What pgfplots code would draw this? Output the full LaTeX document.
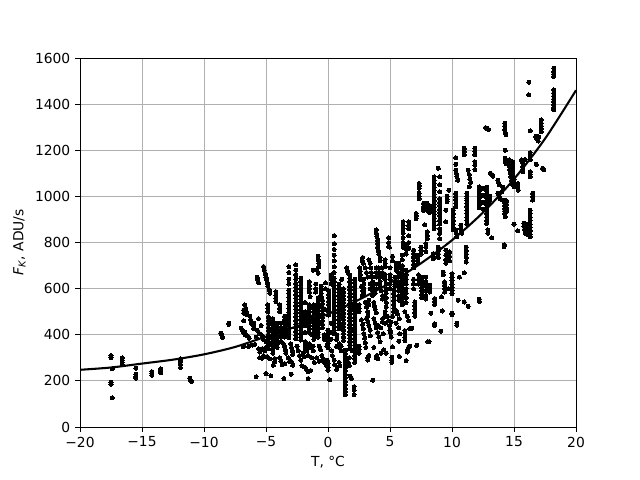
\documentclass[border=0pt]{standalone}
\usepackage{pgfplots}
\pgfplotsset{compat=1.18}
\usepackage{fontspec}
\setmainfont{DejaVu Sans}
\begin{document}
\begin{tikzpicture}[x=1in,y=1in]
\path[use as bounding box] (0,0) rectangle (6.4,4.8);
\begin{axis}[
  at={(0.8in,0.53in)},anchor=south west,
  scale only axis,width=4.96in,height=3.69in,
  xmin=-20,xmax=20,ymin=0,ymax=1600,
  xtick={-20,-15,-10,-5,0,5,10,15,20},
  xticklabels={−20,−15,−10,−5,0,5,10,15,20},
  ytick={0,200,400,600,800,1000,1200,1400,1600},
  yticklabel style={/pgf/number format/assume math mode=true,/pgf/number format/1000 sep={}},
  tick style={black,line width=0.6pt},
  tick align=outside,tick pos=left,
  major tick length=3.5pt,
  axis line style={line width=0.6pt},
  grid=major,grid style={color=black!31,line width=0.6pt},
  tick label style={font=\fontsize{10}{12}\selectfont},
  label style={font=\fontsize{10}{12}\selectfont},
  xlabel={T, °C},
  ylabel={\textit{F}\textsubscript{\textit{K}}, ADU/s},
  xlabel style={yshift=0pt},
  clip=true,
]
\addplot[only marks,mark=*,mark size=1.45pt,black,mark options={line width=0pt}] coordinates {
(-17.5,310)(-17.5,300)(-17.4,252)(-17.5,195)(-17.5,185)(-17.4,127)
(-16.6,300)(-16.6,290)(-16.6,280)(-16.6,270)(-15.5,255)(-15.5,228)(-15.5,218)(-15.5,212)
(-14.2,240)(-14.2,232)(-14.2,224)(-13.5,252)(-13.5,244)(-13.5,236)
(-11.9,295)(-11.9,285)(-11.9,272)(-11.9,258)(-11.15,212)(-11.1,205)(-11.0,197)
(-8.65,407)(-8.55,398)(-8.5,388)(-8,450)(-8,445)
(-6.8,507)(-6.8,494)(-6.8,460)(-6.9,420)(-6.7,412)(-6.8,350)
(-6.7,529)(-6.65,515)(-6.6,500)(-6.55,486)(-6.3,480)(-6.25,465)(-6.2,450)(-6,450)(-6,438)(-6,428)
(-7,428)(-6.9,420)(-6.8,410)(-6.7,400)(-6.5,395)(-6.35,385)(-6.85,348)(-6.4,350)(-6.1,355)(-5.9,358)
(-5.7,650)(-5.65,638)(-5.6,625)(-5.8,218)(-5,232)(-4.6,222)(-3.55,210)(-2.96,229)(-1.6,210)
(-5.2,696)(-5.15,680)(-5.05,665)(-5,650)(-4.95,640)(-4.9,625)(-4.85,610)(-4.75,595)(-4.7,580)(-4.2,587)(-4.2,572)(-4.2,558)(-4.2,543)
(-4.85,529)(-4.85,515)(-4.85,500)
(-5.6,340)(-5.5,325)(-5.3,340)(-5.5,300)(-5.3,298)(-5.6,470)(-5.4,440)(-5.3,395)(-5.2,380)(-5,370)
(-4.8,478)(-4.8,462)(-4.8,448)(-4.8,432)(-4.8,418)(-4.8,402)(-4.8,388)(-4.8,372)(-4.8,358)(-4.8,340)
(-4.45,470)(-4.45,455)(-4.45,440)(-4.45,425)(-4.45,410)(-4.45,395)(-4.45,380)(-4.45,365)(-4.45,350)(-4.45,335)(-4.45,320)
(-4.1,450)(-4.1,435)(-4.1,420)(-4.1,405)(-4.1,390)(-4.1,375)(-4.1,360)(-4.1,345)(-3.9,530)(-3.9,515)(-3.9,500)
(-4.3,297)(-4.3,283)(-4.4,268)(-3.5,275)(-2.95,283)(-2.85,268)
(-3.6,362)(-3.5,348)(-3.45,335)(-3.4,320)(-3,360)(-2.95,345)(-2.9,330)(-2.85,315)
(-3.5,480)(-3.5,465)(-3.5,450)(-3.5,435)(-3.5,420)(-3.5,405)(-3.5,390)
(-3.15,695)(-3.15,670)(-3.15,640)(-3.15,620)(-3.15,594)(-3.15,578)(-3.15,562)(-3.15,546)(-3.15,530)(-3.15,514)(-3.15,498)(-3.15,482)(-3.15,466)(-3.15,450)(-3.15,434)(-3.15,418)(-3.15,402)(-3.15,386)
(-2.6,703)(-2.6,680)(-2.6,660)(-2.6,640)(-2.6,622)(-2.6,606)(-2.6,590)(-2.6,574)(-2.6,558)(-2.6,542)(-2.6,526)(-2.6,510)(-2.6,494)(-2.6,478)(-2.6,462)(-2.6,446)(-2.6,430)(-2.6,414)(-2.6,398)(-2.6,382)
(-2.2,645)(-2.2,630)(-2.2,615)(-2.2,600)(-2.2,585)(-2.2,570)(-2.2,555)(-2.2,540)(-2.2,525)(-2.2,510)(-2.2,495)(-2.2,480)(-2.2,465)(-2.2,450)(-2.2,435)(-2.2,420)(-2.2,405)(-2.2,390)(-2.2,377)
(-1.85,500)(-1.85,485)(-1.85,470)(-1.85,455)(-1.85,440)(-1.85,370)(-1.85,355)(-1.85,340)(-1.9,260)(-1.75,250)(-1.6,240)(-2.1,265)(-1.4,245)
(-1.5,630)(-1.5,615)(-1.5,600)(-1.5,585)(-1.45,565)(-1.5,530)(-1.5,515)(-1.5,500)(-1.5,485)(-1.5,470)(-1.5,455)(-1.5,440)(-1.5,425)(-1.5,410)(-1.5,360)(-1.5,345)(-1.2,350)(-1.2,330)
(-1.2,680)(-1.15,530)(-1.15,515)(-1.15,500)(-1.15,485)(-1.15,470)(-1.15,455)(-1.15,440)(-1.15,425)(-1.15,410)(-1.15,395)(-1.15,380)
(-0.8,740)(-0.8,725)(-0.75,710)(-0.75,695)(-0.9,680)(-0.8,667)(-0.8,560)(-0.8,545)(-0.8,530)(-0.8,515)(-0.8,500)(-0.8,485)(-0.8,470)(-0.8,455)(-0.8,440)(-0.8,425)(-0.8,410)(-0.8,390)(-0.7,350)(-0.6,335)
(-0.55,610)(-0.55,595)(-0.55,580)(-0.55,565)(-0.45,550)(-0.45,535)(-0.45,520)(-0.45,505)(-0.45,490)(-0.45,475)(-0.45,460)(-0.45,445)(-0.45,430)(-0.5,310)(-0.4,295)(-0.3,280)(-0.15,270)
(-0.05,290)(0,275)(0,260)(0,246)(0.13,205)(0,345)(0,360)(0,375)(0,390)(0,405)(0,420)(0.05,590)(0.05,575)(0.05,560)(0.05,545)(0.05,530)(0.05,515)(0.05,500)(0.05,485)
(0.5,830)(0.5,795)(0.5,770)(0.5,745)(0.5,720)(0.5,695)(0.5,670)(0.5,645)(0.5,630)(0.5,615)(0.5,600)(0.5,585)(0.5,570)(0.5,555)(0.5,540)(0.5,525)(0.5,510)(0.5,495)(0.5,480)(0.5,465)(0.5,450)(0.5,435)(0.5,420)(0.5,405)
(0.9,620)(0.9,605)(0.9,590)(0.9,575)(0.9,560)(0.9,545)(0.9,530)(0.9,515)(0.9,500)(0.9,485)(0.9,470)(0.9,455)(0.9,440)(0.9,425)(0.9,360)(0.9,345)(0.9,280)(0.95,265)
(1.25,600)(1.25,585)(1.25,570)(1.25,555)(1.25,540)(1.25,525)(1.25,510)(1.25,495)(1.25,480)(1.25,465)(1.25,450)(1.25,435)(1.25,420)(1.25,405)(1.25,390)(1.25,375)
(1.5,690)(1.55,680)(1.6,670)(1.4,333)(1.4,318)(1.4,303)(1.4,288)(1.4,273)(1.4,258)(1.4,243)(1.4,228)(1.4,213)(1.4,198)(1.4,183)(1.4,168)(1.4,153)(1.4,140)(1.7,300)(1.65,280)(1.7,265)(1.8,220)(1.9,210)
(1.75,660)(1.75,645)(1.75,630)(1.75,610)(1.75,595)(1.75,580)(1.75,565)(1.75,550)(1.75,535)(1.75,520)(1.75,505)(1.75,490)(1.75,475)(1.75,460)(1.75,445)(1.75,430)(1.75,415)(1.75,400)(1.75,385)(1.75,370)(1.75,355)(1.75,340)
(2.1,175)(2.1,160)(2.1,140)(2.15,640)(2.15,625)(2.15,610)(2.15,595)(2.15,580)(2.15,565)(2.15,550)(2.15,535)(2.15,520)(2.15,505)(2.15,490)(2.15,475)(2.15,460)(2.15,445)(2.15,430)(2.15,415)(2.15,400)(2.15,385)(2.15,370)(2.15,355)(2.15,340)(2.15,325)(2.15,310)(2.15,295)(2.15,280)
(2.5,530)(2.5,515)(2.5,500)(2.5,350)(2.5,335)(2.5,320)
(-1.85,540)(-1.85,410)(-1.3,400)(-1.3,470)(-1.3,520)(-0.3,400)(-0.3,380)(-0.3,510)(0.25,450)(0.25,410)(0.25,380)(0.7,400)(0.7,380)(0.7,350)(1.1,640)(1.05,350)(1.05,330)(1.95,330)(1.95,520)(1.95,420)
(-5.7,420)(-5.5,405)(-5.8,390)(-5.2,310)(-5.1,330)(-5,345)(-4.9,305)(-4.7,295)(-3.9,300)(-3.8,285)(-3.7,270)(-3.2,300)(-3.1,285)(-2.5,350)(-2.4,330)(-2.3,310)(-2.2,290)(-2,320)(-1.9,305)(-1.7,330)(-1.6,310)(-1.3,300)(-1.1,280)(-0.9,300)(-0.7,285)
(-3.8,450)(-3.8,430)(-3.8,410)(-3.8,390)(-3.8,370)(-1,620)(-1,600)(-1,585)(-0.2,625)(-0.2,600)(0.25,640)(0.25,660)(0.25,620)(-0.1,350)(0.3,330)(0.35,310)(0.5,290)(0.55,270)(0.7,250)
(2.6,660)(2.6,640)(2.7,610)(2.8,590)(2.75,570)(2.7,465)(2.8,445)(2.85,425)(2.9,405)(2.95,385)(3,365)(3.05,345)(3.2,500)(3.2,480)(3.4,620)(3.4,600)(3.3,550)(3.3,530)(3.9,690)(3.9,670)(3.9,650)(3.9,620)(3.9,600)(3.8,580)
(3.7,470)(3.8,450)(3.9,430)(4,410)(4.1,390)(4.2,370)(4.05,440)(4.25,430)(4.45,405)(4.6,500)(4.6,480)(4.6,450)(4.8,480)(4.9,460)(4.95,440)(5,420)(5.05,410)(5.5,505)(5.6,490)(5.75,470)(5.5,450)(5.7,430)(6.2,500)(6.4,480)(6.5,460)
(2.55,690)(2.6,675)(3,690)(3.1,670)(3.2,650)(4.35,690)(4.4,670)(4.4,650)(4.95,780)(5.2,740)(5.2,720)(5.4,650)(5.4,630)(5.4,610)
(2.8,735)(2.75,720)(2.85,710)(2.9,640)(2.9,620)(2.9,600)(2.9,580)(3,540)(3.1,520)(3.1,470)(3.2,455)(3.3,440)(3.4,420)(3.4,395)(3.3,310)(3.2,300)(3.2,290)(3.6,203)(3.7,345)(3.95,310)(3.9,300)(4,295)(4.3,320)(4.5,335)(4.7,320)
(3.3,725)(3.4,710)(3.45,690)(3.5,670)(3.55,650)(3.6,630)(3.6,610)(3.6,590)(3.6,570)(3.7,540)(3.75,525)(3.8,510)(3.9,495)
(3.9,855)(3.9,840)(3.95,825)(4,810)(4,795)(4,780)(4.05,765)(4.1,750)(4.2,735)(4.2,722)(4.1,690)(4.1,670)(4.1,650)(4.2,630)(4.2,610)(4.3,590)(4.4,570)(4.4,555)(4.4,470)(4.4,455)
(4.6,725)(4.6,710)(4.6,695)(4.6,660)(4.6,640)(4.7,620)(4.7,600)(4.7,580)(4.7,560)(4.7,540)(4.7,520)
(4.9,820)(4.9,800)(4.9,783)(5,690)(5,660)(5,640)(5,620)(5,600)(5.5,710)(5.5,695)(5.5,680)
(5.3,593)(5.3,578)(5.3,563)(5.3,548)(5.3,530)(5.3,515)(5.3,500)(5.2,480)
(5.7,710)(5.7,690)(5.7,670)(5.7,650)(5.7,630)(5.7,610)(5.7,590)(5.7,570)(5.7,550)
(6,745)(6,725)(6,700)(6,680)(6,665)(6,650)(6,635)(6,620)(6,605)(6,590)(6,575)(6,560)(6,545)(6,530)(6.05,890)(6.05,875)(6.05,860)(6.05,840)(6.05,820)(6.05,800)(6.05,780)
(6.3,790)(6.3,770)(6.3,750)(6.3,680)(6.3,660)(6.3,640)(6.3,620)(6.3,600)(6.3,580)(6.3,560)(6.3,540)(6.5,890)(6.5,875)(6.5,860)(6.5,830)(6.5,800)(6.5,775)
(6.9,767)(6.9,752)(6.9,737)(6.9,722)(6.9,705)(6.9,690)(6.9,640)(6.9,620)(6.9,600)(7,542)(7,525)(7,510)(7,495)(7,480)
(7.1,926)(7.1,915)(7.1,904)(7.25,745)(7.25,730)(7.25,710)(7.3,660)(7.3,640)(7.3,620)(7.35,1056)(7.35,1045)(7.35,1035)(7.35,1013)(7.35,1000)(7.35,990)
(7.5,780)(7.5,765)(7.5,750)(7.55,650)(7.55,635)(7.55,620)(7.55,605)(7.55,590)(7.55,575)(7.55,560)(7.7,970)(7.7,955)(7.7,940)(7.8,876)
(7.9,795)(7.9,780)(7.9,760)(7.9,650)(7.9,630)(7.9,610)(7.9,590)(7.9,570)(7.9,555)(8,970)(8,955)(8,940)(8,846)(8,830)(8,817)
(8.2,615)(8.2,600)(8.2,585)(8.3,494)(8.2,960)(8.2,945)(8.2,930)(8.5,752)(8.5,740)(8.5,730)
(8.55,1085)(8.55,1070)(8.55,1055)(8.55,1040)(8.55,1025)(8.55,1010)(8.55,995)(8.55,980)(8.55,965)(8.55,950)(8.55,935)(8.55,920)(8.55,905)(8.55,890)(8.55,875)(8.55,860)
(8.6,557)(8.6,545)(8.6,532)(8.6,448)(8.6,440)(8.9,1122)(8.9,780)(8.9,765)(8.9,750)(8.9,735)
(9,1085)(9,1050)(9,1020)(9,990)(9,975)(9,960)(9,945)(9,930)(9,915)(9,897)(9,880)(9,860)(9,840)(9,817)(9.1,416)
(9.15,564)(9.2,503)(9.3,672)(9.3,660)(9.4,629)(9.4,615)(9.4,600)(9.4,585)(9.5,940)(9.5,890)(9.5,767)(9.5,745)(9.5,725)(9.5,710)
(9.6,1000)(9.6,988)(9.6,977)(9.7,600)(9.75,1027)(9.8,760)(9.8,740)(9.8,720)
(10,665)(10,650)(10,635)(10,620)(10,605)(10,590)(10,578)(10,494)(10,486)(10.1,940)(10.1,925)(10.1,910)(10.1,895)(10.1,880)(10.1,865)(10.1,855)(10.3,1168)(10.3,1139)
(10.3,1114)(10.35,1100)(10.4,1085)(10.45,1070)(10.3,1013)(10.3,1000)(10.3,985)(10.3,970)(10.3,955)(10.3,855)(10.35,840)(10.4,825)(10.4,442)(10.4,450)(10.5,550)(10.6,650)
(10.7,875)(10.7,860)(10.75,845)(10.8,840)(11,1208)(11,1195)(11,1180)(11,668)(11,542)
(11.15,780)(11.15,765)(11.15,750)(11.15,735)(11.15,715)(11.2,1013)(11.2,1000)(11.2,990)(11.2,984)(11.2,970)(11.2,955)(11.2,940)(11.2,925)(11.2,910)(11.2,895)(11.2,880)(11.3,523)
(11.3,1114)(11.4,1095)(11.45,1075)(11.5,1060)(11.4,1042)(11.85,1208)(11.85,1195)(11.85,1180)(11.85,1150)(11.85,1135)(11.85,1115)(12.2,554)(12.2,545)
(12.2,1042)(12.2,1025)(12.2,1010)(12.2,995)(12.2,980)(12.2,965)(12.2,950)(12.5,1035)(12.5,1005)(12.5,975)(12.5,945)
(12.8,1040)(12.8,1025)(12.8,1010)(12.8,995)(12.8,980)(12.8,965)(12.8,950)(12.8,940)(12.8,925)(12.8,910)(12.8,895)(12.8,883)(12.8,1295)(12.7,1298)(12.95,1290)(12.9,855)(12.9,840)(13.2,820)
(13.1,1100)(13.2,1095)(13.3,1088)(13.05,1000)(13.05,985)(13,970)(13.7,1070)(13.75,1060)(13.8,1050)(13.7,1013)(13.8,1000)(13.9,990)(14,985)(14,1020)(14.1,1040)
(14.25,1317)(14.25,1305)(14.25,1290)(14.3,1275)(14.35,1267)(14.3,1200)(14.3,1165)(14.3,1155)(14.35,1143)
(14.25,984)(14.25,972)(14.25,960)(14.25,948)(14.25,936)(14.25,924)(14.4,980)(14.4,965)(14.4,950)(14.4,935)(14.3,912)(14.2,790)(14.2,782)
(14.6,1158)(14.6,1145)(14.6,1130)(14.65,1115)(14.7,1100)(14.75,1085)(14.8,1070)(14.8,1056)(14.9,1150)(14.9,1135)(14.9,1120)(14.9,1105)(14.9,1090)(15,1075)(15,1060)(15,1042)(15,880)(15.3,850)
(15.3,1056)(15.3,1040)(15.35,1027)(15.6,1158)(15.7,1145)(15.7,1130)(15.7,1118)(15.7,1107)(15.9,1160)(15.8,883)(15.8,870)(15.85,858)(15.9,840)(16.1,880)(16.1,865)(16.1,850)(16.1,835)
(16.3,1190)(16.3,1175)(16.3,1158)(16.3,1107)(16.3,1096)(16.3,1085)(16.3,940)(16.3,925)(16.3,910)(16.3,895)(16.3,880)(16.3,865)(16.3,850)(16.3,835)(16.3,825)(16.3,1284)
(16.5,1013)(16.5,998)(16.5,984)(16.8,1139)(16.75,1260)(16.85,1248)(16.95,1240)(17,1258)
(17.2,1332)(17.2,1318)(17.2,1305)(17.2,1293)(17.2,1281)(17.3,1122)(17.4,1115)
(16.2,1495)(16.2,1440)
(18.2,1556)(18.2,1542)(18.2,1530)(18.2,1520)(18.2,1462)(18.2,1448)(18.2,1435)(18.2,1422)(18.2,1411)(18.2,1398)(18.2,1385)(18.2,1375)
(5.1,455)(5.1,390)(5.2,347)(5.15,303)(5.15,290)(5.15,280)(5.8,404)(5.7,372)(5.75,306)(6.3,288)
(6.6,426)(6.75,428)(6.2,418)(6.2,405)(6.2,390)(6.2,375)(6.5,346)(6.45,335)(6.4,325)(6.6,350)(7.15,354)(8.05,370)(8.15,370)
};
\addplot[black,line width=1.5pt,smooth,no marks] coordinates {
(-20,248)(-17.5,258)(-15,275)(-12.5,292)(-10,315)(-7.5,347)(-5,392)(-2.5,437)(0,490)(2.5,552)(5,625)(7.5,710)(10,810)(12.5,930)(15,1075)(17.5,1250)(20,1460)
};
\end{axis}
\end{tikzpicture}
\end{document}
